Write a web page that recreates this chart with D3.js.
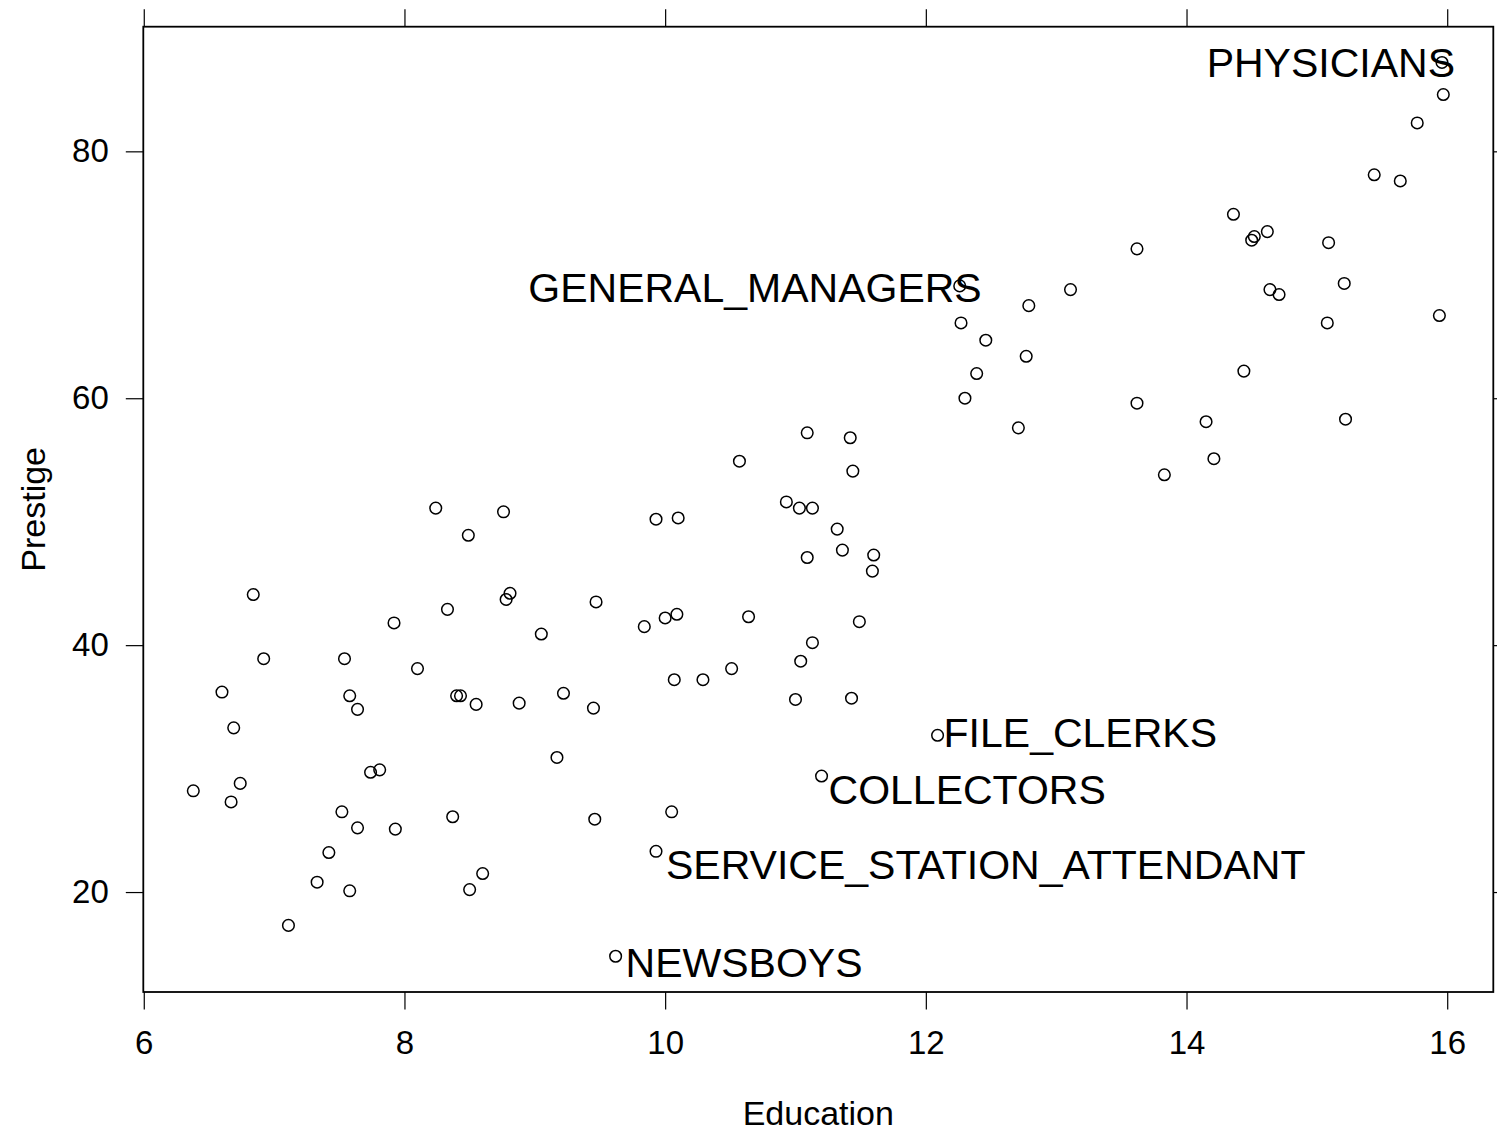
<!DOCTYPE html>
<html>
<head>
<meta charset="utf-8">
<script src="https://cdn.jsdelivr.net/npm/d3@7"></script>
<style>
  html, body { margin: 0; padding: 0; background: #fff; }
  svg { display: block; font-family: "Liberation Sans", Arial, Helvetica, sans-serif; }
</style>
</head>
<body>
<svg id="chart" width="1497" height="1135"></svg>
<script>
// ---- data (Prestige of Canadian occupations) ----
const occupations = [
  "GOV_ADMINISTRATORS","GENERAL_MANAGERS","ACCOUNTANTS","PURCHASING_OFFICERS","CHEMISTS","PHYSICISTS",
  "BIOLOGISTS","ARCHITECTS","CIVIL_ENGINEERS","MINING_ENGINEERS","SURVEYORS","DRAUGHTSMEN",
  "COMPUTER_PROGRAMERS","ECONOMISTS","PSYCHOLOGISTS","SOCIAL_WORKERS","LAWYERS","LIBRARIANS",
  "VOCATIONAL_COUNSELLORS","MINISTERS","UNIVERSITY_TEACHERS","PRIMARY_SCHOOL_TEACHERS","SECONDARY_SCHOOL_TEACHERS","PHYSICIANS",
  "VETERINARIANS","OSTEOPATHS_CHIROPRACTORS","NURSES","NURSING_AIDES","PHYSIO_THERAPSTS","PHARMACISTS",
  "MEDICAL_TECHNICIANS","COMMERCIAL_ARTISTS","RADIO_TV_ANNOUNCERS","ATHLETES","SECRETARIES","TYPISTS",
  "BOOKKEEPERS","TELLERS_CASHIERS","COMPUTER_OPERATORS","SHIPPING_CLERKS","FILE_CLERKS","RECEPTIONSTS",
  "MAIL_CARRIERS","POSTAL_CLERKS","TELEPHONE_OPERATORS","COLLECTORS","CLAIM_ADJUSTORS","TRAVEL_CLERKS",
  "OFFICE_CLERKS","SALES_SUPERVISORS","COMMERCIAL_TRAVELLERS","SALES_CLERKS","NEWSBOYS","SERVICE_STATION_ATTENDANT",
  "INSURANCE_AGENTS","REAL_ESTATE_SALESMEN","BUYERS","FIREFIGHTERS","POLICEMEN","COOKS",
  "BARTENDERS","FUNERAL_DIRECTORS","BABYSITTERS","LAUNDERERS","JANITORS","ELEVATOR_OPERATORS",
  "FARMERS","FARM_WORKERS","ROTARY_WELL_DRILLERS","BAKERS","SLAUGHTERERS_1","SLAUGHTERERS_2",
  "CANNERS","TEXTILE_WEAVERS","TEXTILE_LABOURERS","TOOL_DIE_MAKERS","MACHINISTS","SHEET_METAL_WORKERS",
  "WELDERS","AUTO_WORKERS","AIRCRAFT_WORKERS","ELECTRONIC_WORKERS","RADIO_TV_REPAIRMEN","SEWING_MACH_OPERATORS",
  "AUTO_REPAIRMEN","AIRCRAFT_REPAIRMEN","RAILWAY_SECTIONMEN","ELECTRICAL_LINEMEN","ELECTRICIANS","CONSTRUCTION_FOREMEN",
  "CARPENTERS","MASONS","HOUSE_PAINTERS","PLUMBERS","CONSTRUCTION_LABOURERS","PILOTS",
  "TRAIN_ENGINEERS","BUS_DRIVERS","TAXI_DRIVERS","LONGSHOREMEN","TYPESETTERS","BOOKBINDERS"
];
const education = [
  13.11,12.26,12.77,11.42,14.62,15.64,
  15.09,15.44,14.52,14.64,12.39,12.30,
  13.83,14.44,14.36,14.21,15.77,14.15,
  15.22,14.50,15.97,13.62,15.08,15.96,
  15.94,14.71,12.46,9.45,13.62,15.21,
  12.79,11.09,12.71,11.44,11.59,11.49,
  11.32,10.64,11.36,9.17,12.09,11.04,
  9.22,10.07,10.51,11.20,11.13,11.43,
  11.00,9.84,11.13,10.05,9.62,9.93,
  11.60,11.09,11.03,9.47,10.93,7.74,
  8.50,10.57,9.46,7.33,7.11,7.58,
  6.84,8.60,8.88,7.54,7.64,7.64,
  7.42,6.69,6.74,10.09,8.81,8.40,
  7.92,8.43,8.78,8.76,10.29,6.38,
  8.10,10.10,6.67,9.05,9.93,8.24,
  6.92,6.60,7.81,8.33,7.52,12.27,
  8.49,7.58,7.93,8.37,10.00,8.55
];
const prestige = [
  68.8,69.1,63.4,56.8,73.5,77.6,
  72.6,78.1,73.1,68.8,62.0,60.0,
  53.8,62.2,74.9,55.1,82.3,58.1,
  58.3,72.8,84.6,59.6,66.1,87.2,
  66.7,68.4,64.7,34.9,72.1,69.3,
  67.5,57.2,57.6,54.1,46.0,41.9,
  49.4,42.3,47.7,30.9,32.7,38.7,
  36.1,37.2,38.1,29.4,51.1,35.7,
  35.6,41.5,40.2,26.5,14.8,23.3,
  47.3,47.1,51.1,43.5,51.6,29.7,
  20.2,54.9,25.9,20.8,17.3,20.1,
  44.1,21.5,35.3,38.9,25.2,34.8,
  23.2,33.3,28.8,42.5,44.2,35.9,
  41.8,35.9,43.7,50.8,37.2,28.2,
  38.1,50.3,27.3,40.9,50.2,51.1,
  38.9,36.2,29.9,42.9,26.5,66.1,
  48.9,35.9,25.1,26.1,42.2,35.2
];
const labelled = ["PHYSICIANS","GENERAL_MANAGERS","FILE_CLERKS","COLLECTORS","SERVICE_STATION_ATTENDANT","NEWSBOYS"];
const xTicks = [6, 8, 10, 12, 14, 16];
const yTicks = [20, 40, 60, 80];
const xTitle = "Education";
const yTitle = "Prestige";

// ---- layout ----
const svg = d3.select("#chart");
const L = 143.3, R = 1493.3, T = 26.7, B = 992;
const pad = (lo, hi) => { const d = (hi - lo) * 0.04; return [lo - d, hi + d]; };
const x = d3.scaleLinear().domain(pad(d3.min(education), d3.max(education))).range([L, R]);
const y = d3.scaleLinear().domain(pad(d3.min(prestige), d3.max(prestige))).range([B, T]);

const tickLen = 17.5;
const tickFont = 33;

// axes via d3
const axB = svg.append("g").attr("transform", `translate(0,${B})`)
  .call(d3.axisBottom(x).tickValues(xTicks).tickSize(tickLen).tickPadding(21).tickFormat(d3.format("d")));
const axT = svg.append("g").attr("transform", `translate(0,${T})`)
  .call(d3.axisTop(x).tickValues(xTicks).tickSize(tickLen).tickFormat(""));
const axL = svg.append("g").attr("transform", `translate(${L},0)`)
  .call(d3.axisLeft(y).tickValues(yTicks).tickSize(tickLen).tickPadding(17).tickFormat(d3.format("d")));
const axR = svg.append("g").attr("transform", `translate(${R},0)`)
  .call(d3.axisRight(y).tickValues(yTicks).tickSize(tickLen).tickFormat(""));

[axB, axT, axL, axR].forEach(g => {
  g.select(".domain").remove();
  g.selectAll(".tick line").attr("stroke", "#000").attr("stroke-width", 1.2);
  g.selectAll(".tick text").attr("fill", "#000")
    .style("font-family", '"Liberation Sans", Arial, sans-serif')
    .style("font-size", tickFont + "px");
});

// panel frame
svg.append("rect").attr("x", L).attr("y", T).attr("width", R - L).attr("height", B - T)
  .attr("fill", "none").attr("stroke", "#000").attr("stroke-width", 1.8);

// axis titles
svg.append("text").attr("x", (L + R) / 2).attr("y", 1125).attr("text-anchor", "middle")
  .style("font-size", "34px").attr("fill", "#000").text(xTitle);
svg.append("text").attr("transform", `translate(45,${(T + B) / 2}) rotate(-90)`).attr("text-anchor", "middle")
  .style("font-size", "34px").attr("fill", "#000").text(yTitle);

// points
const pts = occupations.map((n, i) => ({ name: n, ed: education[i], pr: prestige[i] }));
svg.append("g").selectAll("circle").data(pts).join("circle")
  .attr("cx", d => x(d.ed)).attr("cy", d => y(d.pr)).attr("r", 5.8)
  .attr("fill", "none").attr("stroke", "#000").attr("stroke-width", 1.5);

// labels (placement offsets in pixels, relative to the point)
const labelPlace = {
  PHYSICIANS: { anchor: "end", dx: 13, dy: 0 },
  GENERAL_MANAGERS: { anchor: "end", dx: 22, dy: 1.5 },
  FILE_CLERKS: { anchor: "start", dx: 6, dy: -3 },
  COLLECTORS: { anchor: "start", dx: 7, dy: 13 },
  SERVICE_STATION_ATTENDANT: { anchor: "start", dx: 10, dy: 13 },
  NEWSBOYS: { anchor: "start", dx: 10, dy: 6 }
};
const labFont = 41;
svg.append("g").selectAll("text").data(pts.filter(d => labelled.includes(d.name))).join("text")
  .attr("x", d => x(d.ed) + labelPlace[d.name].dx)
  .attr("y", d => y(d.pr) + labelPlace[d.name].dy + labFont * 0.358)
  .attr("text-anchor", d => labelPlace[d.name].anchor)
  .style("font-size", labFont + "px").attr("fill", "#000")
  .text(d => d.name);
</script>
</body>
</html>
